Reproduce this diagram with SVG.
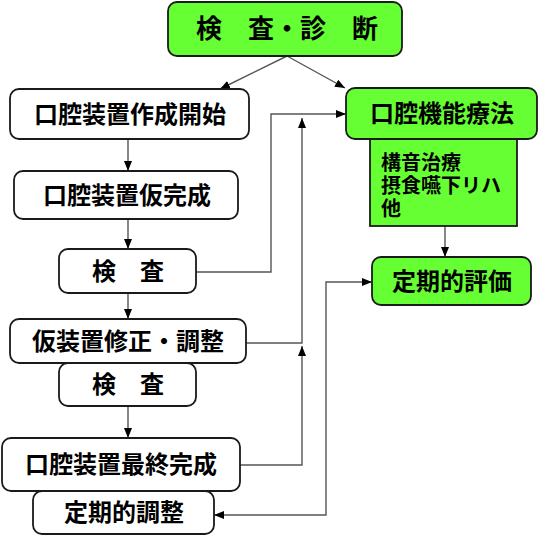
<svg xmlns="http://www.w3.org/2000/svg" width="540" height="537" viewBox="0 0 540 537">
<defs>
<style>
.box{fill:#ffffff;stroke:#1a1a1a;stroke-width:1.8}
.gbox{fill:#66ff33;stroke:#1a1a1a;stroke-width:1.8}
.t{font-family:"Liberation Sans","Noto Sans CJK JP",sans-serif;font-weight:bold;font-size:24px;fill:#000;text-anchor:middle}
.s{font-family:"Liberation Sans","Noto Sans CJK JP",sans-serif;font-weight:bold;font-size:20px;fill:#000}
.c{fill:none;stroke:#555;stroke-width:1.4}
</style>
<marker id="ah" viewBox="0 0 10 8" refX="10" refY="4" markerWidth="10" markerHeight="8" markerUnits="userSpaceOnUse" orient="auto-start-reverse">
<path d="M0,0 L10,4 L0,8 z" fill="#000"/>
</marker>
</defs>
<rect width="540" height="537" fill="#ffffff"/>
<g id="connectors">
<path class="c" d="M287,56 L220,89" marker-end="url(#ah)"/>
<path class="c" d="M287,56 L345,88" marker-end="url(#ah)"/>
<path class="c" d="M128,139 L128,171" marker-end="url(#ah)"/>
<path class="c" d="M128,219 L128,249" marker-end="url(#ah)"/>
<path class="c" d="M128,293 L128,319" marker-end="url(#ah)"/>
<path class="c" d="M128,406 L128,438" marker-end="url(#ah)"/>
<path class="c" d="M445,226 L445,257" marker-end="url(#ah)"/>
<path class="c" d="M196,272 L271,272 L271,114 L346,114" marker-end="url(#ah)"/>
<path class="c" d="M246,343 L302,343 L302,118" marker-end="url(#ah)"/>
<path class="c" d="M240,465 L302,465 L302,346" marker-end="url(#ah)"/>
<path class="c" d="M214,515 L326,515 L326,282 L372,282" marker-start="url(#ah)" marker-end="url(#ah)"/>
</g>
<g id="node-shindan">
<rect class="gbox" x="168" y="2" width="234" height="54" rx="9"/>
<text class="t" x="287" y="38" style="font-size:26px">検　査・診　断</text>
</g>
<g id="node-sakusei">
<rect class="box" x="10" y="89" width="239" height="50" rx="9"/>
<text class="t" x="130" y="123">口腔装置作成開始</text>
</g>
<g id="node-kinou">
<rect class="gbox" x="370" y="139" width="147" height="87"/>
<rect class="gbox" x="346" y="88" width="191" height="51" rx="9"/>
<text class="t" x="442" y="122">口腔機能療法</text>
<text class="s" x="381" y="170">構音治療</text>
<text class="s" x="381" y="193">摂食嚥下リハ</text>
<text class="s" x="381" y="216">他</text>
</g>
<g id="node-karikansei">
<rect class="box" x="14" y="171" width="224" height="48" rx="9"/>
<text class="t" x="127" y="204">口腔装置仮完成</text>
</g>
<g id="node-kensa1">
<rect class="box" x="59" y="249" width="137" height="44" rx="9"/>
<text class="t" x="128" y="280">検　査</text>
</g>
<g id="node-teiki-hyouka">
<rect class="gbox" x="372" y="257" width="159" height="48" rx="9"/>
<text class="t" x="452" y="290">定期的評価</text>
</g>
<g id="node-shusei">
<rect class="box" x="10" y="319" width="236" height="44" rx="9"/>
<text class="t" x="128" y="350">仮装置修正・調整</text>
</g>
<g id="node-kensa2">
<rect class="box" x="59" y="363" width="137" height="43" rx="9"/>
<text class="t" x="128" y="393">検　査</text>
</g>
<g id="node-saishu">
<rect class="box" x="2" y="438" width="238" height="53" rx="9"/>
<text class="t" x="121" y="473">口腔装置最終完成</text>
</g>
<g id="node-teiki-chousei">
<rect class="box" x="33" y="491" width="181" height="43" rx="9"/>
<text class="t" x="124" y="521">定期的調整</text>
</g>
</svg>
